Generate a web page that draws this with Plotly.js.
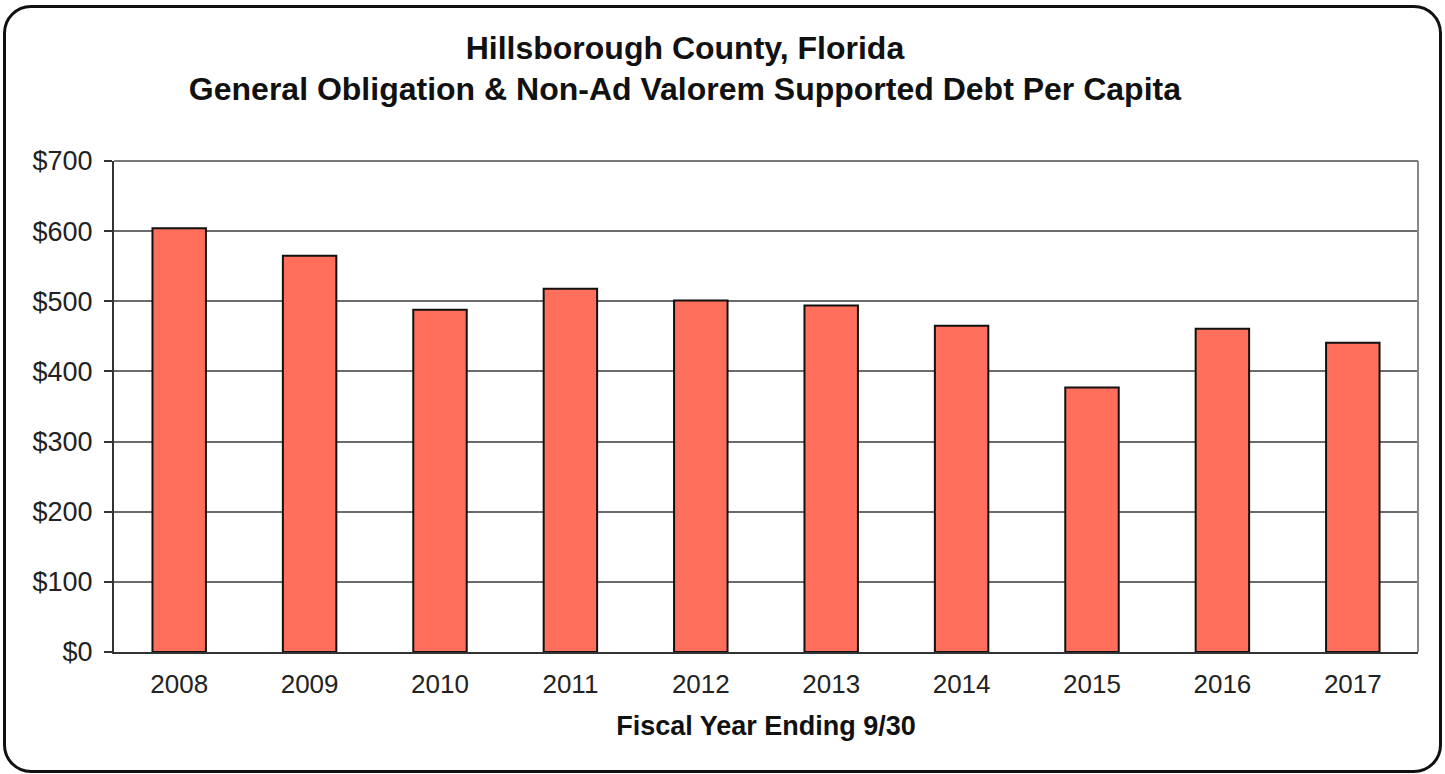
<!DOCTYPE html>
<html>
<head>
<meta charset="utf-8">
<script src="https://cdn.plot.ly/plotly-3.0.1.min.js"></script>
<style>
  html, body { margin: 0; padding: 0; background: #fff; }
  #wrap { position: relative; width: 1445px; height: 774px; }
  #chart { position: absolute; left: 0; top: 0; width: 1445px; height: 774px; }
  #frame { position: absolute; left: 3px; top: 5px; width: 1433px; height: 762px;
           border: 3px solid #111; border-radius: 28px; pointer-events: none; }
</style>
</head>
<body>
<div id="wrap">
  <div id="chart"></div>
  <div id="frame"></div>
</div>
<script>
const years = ['2008','2009','2010','2011','2012','2013','2014','2015','2016','2017'];
const debtPerCapita = [604, 565, 488, 518, 501, 494, 465, 377, 461, 441];
const yTickVals = [0, 100, 200, 300, 400, 500, 600, 700];
const yTickText = ['$0','$100','$200','$300','$400','$500','$600','$700'];

const trace = {
  type: 'bar',
  x: years,
  y: debtPerCapita,
  width: 0.41,
  marker: { color: '#FF6F5C', line: { color: '#111', width: 2 } },
  hoverinfo: 'x+y'
};

const layout = {
  width: 1445, height: 774,
  margin: { l: 114, r: 27, t: 161, b: 122 },
  paper_bgcolor: '#fff', plot_bgcolor: '#fff',
  font: { family: 'Liberation Sans, Arial, sans-serif', color: '#111' },
  title: {
    text: '<b>Hillsborough County, Florida<br>General Obligation &amp; Non-Ad Valorem Supported Debt Per Capita</b>',
    font: { size: 32, color: '#111' },
    x: 0.474, xref: 'container', xanchor: 'center',
    y: 0.924, yref: 'container', yanchor: 'middle'
  },
  showlegend: false,
  xaxis: {
    type: 'category',
    tickfont: { size: 26, color: '#222' },
    showline: true, linecolor: '#333', linewidth: 2,
    ticks: '', showgrid: false,
    ticklabelstandoff: 8,
    title: { text: '<b>Fiscal Year Ending 9/30</b>', font: { size: 27, color: '#111' }, standoff: 18 }
  },
  yaxis: {
    range: [0, 700],
    tickvals: yTickVals, ticktext: yTickText,
    tickfont: { size: 27, color: '#222' },
    showline: true, linecolor: '#333', linewidth: 2,
    ticks: 'outside', ticklen: 8, tickcolor: '#333', tickwidth: 2,
    showgrid: true, gridcolor: '#6b6b6b', gridwidth: 2,
    zeroline: false,
    ticklabelstandoff: 6
  },
  shapes: [
    { type: 'line', xref: 'paper', yref: 'paper', x0: 1, x1: 1, y0: 0, y1: 1,
      line: { color: '#888', width: 2 } },
    { type: 'line', xref: 'paper', yref: 'paper', x0: 0, x1: 1, y0: 1, y1: 1,
      line: { color: '#777', width: 2 } }
  ]
};

Plotly.newPlot('chart', [trace], layout, { displayModeBar: false, staticPlot: true });
</script>
</body>
</html>
